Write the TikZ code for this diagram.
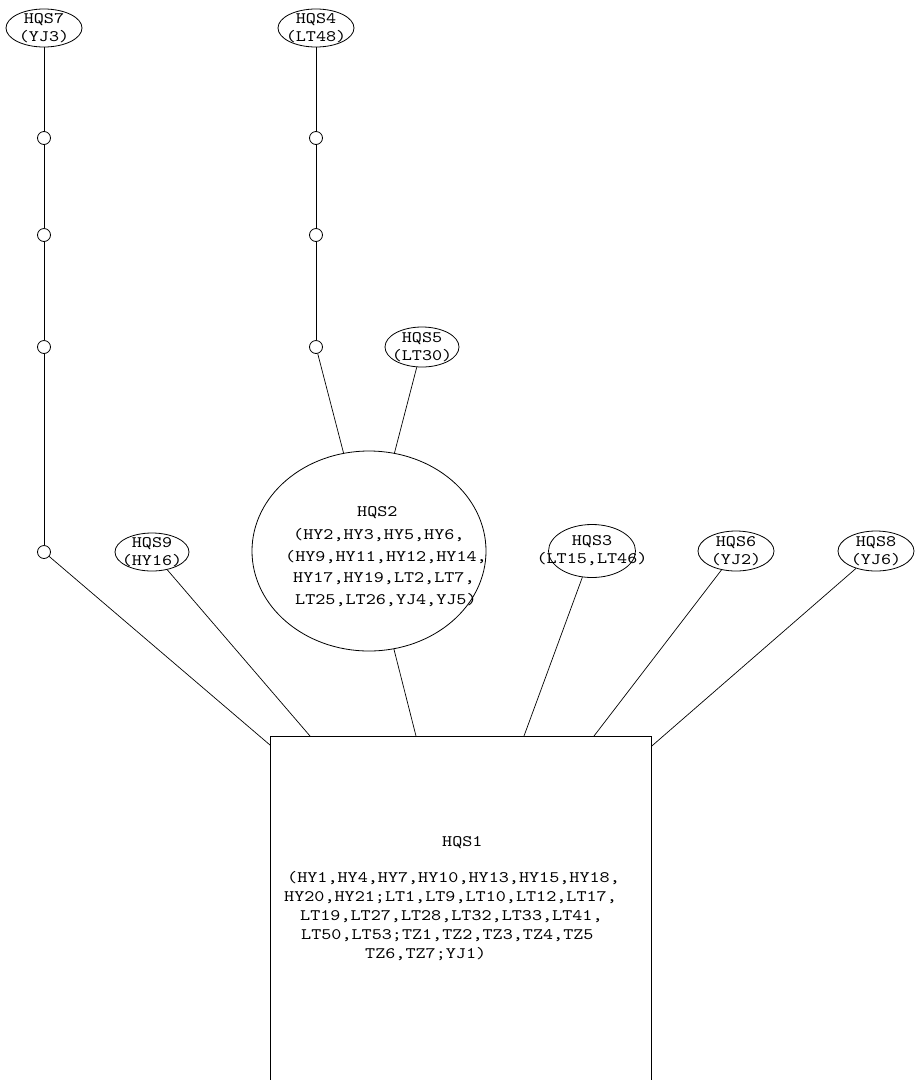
\documentclass[tikz,border=0pt]{standalone}
\usepackage{fontspec}
\newfontfamily\cour{lmmono10-regular.otf}[FakeStretch=1.2]
\usetikzlibrary{shapes.geometric}
\begin{document}
\begin{tikzpicture}[x=1pt,y=-1pt,
  hap/.style={draw, ellipse, line width=0.8pt, inner sep=0pt},
  htext/.style={align=center, inner sep=0pt, font=\cour\fontsize{16}{18}\selectfont},
  mv/.style={draw, circle, line width=0.8pt, minimum size=13pt, inner sep=0pt, fill=white},
  link/.style={draw, line width=0.7pt}]
\useasboundingbox (0,0) rectangle (916,1080);

% HQS1 rectangle and its text
\node[draw, line width=0.8pt, anchor=north west, minimum width=381pt, minimum height=360pt, inner sep=0pt] (HQS1) at (270,736) {};
\node[anchor=base west, align=left, inner sep=0pt, font=\cour\fontsize{16}{19}\selectfont] (t1) at (284,958)
  {\hspace*{158pt}HQS1\\[17pt]%
   \hspace*{3pt}(HY1,HY4,HY7,HY10,HY13,HY15,HY18,\\
   HY20,HY21;LT1,LT9,LT10,LT12,LT17,\\
   \hspace*{16pt}LT19,LT27,LT28,LT32,LT33,LT41,\\
   \hspace*{17pt}LT50,LT53;TZ1,TZ2,TZ3,TZ4,TZ5\\
   \hspace*{81pt}TZ6,TZ7;YJ1)};

% HQS2
\node[hap, minimum width=234pt, minimum height=200pt] (HQS2) at (369,551) {};
\node[anchor=base west, align=left, inner sep=0pt, font=\cour\fontsize{16}{21.5}\selectfont] (t2) at (285,604)
  {\hspace*{72pt}HQS2\\[1.5pt]
   \hspace*{8pt}(HY2,HY3,HY5,HY6,\\
   (HY9,HY11,HY12,HY14,\\
   \hspace*{8pt}HY17,HY19,LT2,LT7,\\
   \hspace*{10pt}LT25,LT26,YJ4,YJ5)};

% small haplotypes
\node[hap, minimum width=76pt, minimum height=38pt, label={[htext]center:{HQS7\\(YJ3)}}] (HQS7) at (44,28) {};
\node[hap, minimum width=76pt, minimum height=38pt, label={[htext]center:{HQS4\\(LT48)}}] (HQS4) at (316,28) {};
\node[hap, minimum width=74pt, minimum height=40pt, label={[htext]center:{HQS5\\(LT30)}}] (HQS5) at (422,347) {};
\node[hap, minimum width=74pt, minimum height=38pt, label={[htext]center:{HQS9\\(HY16)}}] (HQS9) at (152,552) {};
\node[hap, minimum width=87pt, minimum height=53pt, label={[htext]center:{HQS3\\(LT15,LT46)}}] (HQS3) at (592,551) {};
\node[hap, minimum width=76pt, minimum height=40pt, label={[htext]center:{HQS6\\(YJ2)}}] (HQS6) at (736,551) {};
\node[hap, minimum width=76pt, minimum height=40pt, label={[htext]center:{HQS8\\(YJ6)}}] (HQS8) at (876,551) {};

% median vectors
\node[mv] (a1) at (44,138) {};
\node[mv] (a2) at (44,235) {};
\node[mv] (a3) at (44,347) {};
\node[mv] (a4) at (44,552) {};
\node[mv] (b1) at (316,138) {};
\node[mv] (b2) at (316,235) {};
\node[mv] (b3) at (316,347) {};

% connectors
\draw[link] (HQS7) -- (a1);
\draw[link] (a1) -- (a2);
\draw[link] (a2) -- (a3);
\draw[link] (a3) -- (a4);
\draw[link] (a4) -- ([yshift=-9pt]HQS1.north west);
\draw[link] (HQS4) -- (b1);
\draw[link] (b1) -- (b2);
\draw[link] (b2) -- (b3);
\draw[link] (b3) -- (HQS2);
\draw[link] (HQS5) -- (HQS2);
\draw[link] (HQS9) -- ([xshift=40pt]HQS1.north west);
\draw[link] (HQS2) -- ([xshift=146pt]HQS1.north west);
\draw[link] (HQS3) -- ([xshift=254pt]HQS1.north west);
\draw[link] (HQS6) -- ([xshift=324pt]HQS1.north west);
\draw[link] (HQS8) -- ([yshift=-10pt]HQS1.north east);
\end{tikzpicture}
\end{document}
